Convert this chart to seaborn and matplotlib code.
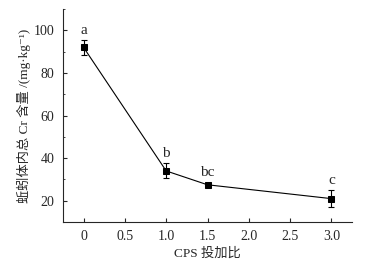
import numpy as np
import pandas as pd
import matplotlib
matplotlib.use("Agg")
import matplotlib.pyplot as plt
import seaborn as sns
from matplotlib.ticker import MultipleLocator

# Data
ratio = [0, 1.0, 1.5, 3.0]
cr_content = [92.0, 34.0, 27.5, 21.0]
cr_err = [3.5, 3.5, 1.0, 4.0]
letters = ["a", "b", "bc", "c"]

df = pd.DataFrame({"ratio": ratio, "cr": cr_content, "err": cr_err, "sig": letters})

sns.set_style("ticks")
plt.rcParams["font.family"] = ["Liberation Serif", "Noto Sans CJK SC", "DejaVu Sans"]

fig = plt.figure(figsize=(3.79, 2.65), dpi=100)
ax = fig.add_axes([0.166, 0.162, 0.763, 0.804])

ax.errorbar(df["ratio"], df["cr"], yerr=df["err"], fmt="none",
            ecolor="black", elinewidth=0.8, capsize=2.5, capthick=0.8)
sns.lineplot(data=df, x="ratio", y="cr", marker="s", markersize=5,
             color="black", linewidth=0.8, markeredgecolor="black", ax=ax)

for _, row in df.iterrows():
    ax.text(row["ratio"], row["cr"] + row["err"] + 1.5, row["sig"],
            ha="center", va="bottom", fontsize=11)

ax.set_xlim(-0.25, 3.25)
ax.set_ylim(10, 110)
ax.set_xticks([0, 0.5, 1.0, 1.5, 2.0, 2.5, 3.0])
ax.set_xticklabels(["0", "0.5", "1.0", "1.5", "2.0", "2.5", "3.0"])
ax.set_yticks([20, 40, 60, 80, 100])
ax.yaxis.set_minor_locator(MultipleLocator(10))
ax.tick_params(direction="in", length=3, width=0.8, labelsize=10, pad=6)
ax.tick_params(which="minor", direction="in", length=1.5, width=0.6)

ax.set_xlabel("CPS 投加比", fontsize=9.5, labelpad=3)
ax.set_ylabel("蚯蚓体内总 Cr 含量 /(mg·kg⁻¹)", fontsize=9.5, labelpad=2)

sns.despine(ax=ax)
for s in ["left", "bottom"]:
    ax.spines[s].set_linewidth(0.8)

fig.savefig("out.png", dpi=100)
